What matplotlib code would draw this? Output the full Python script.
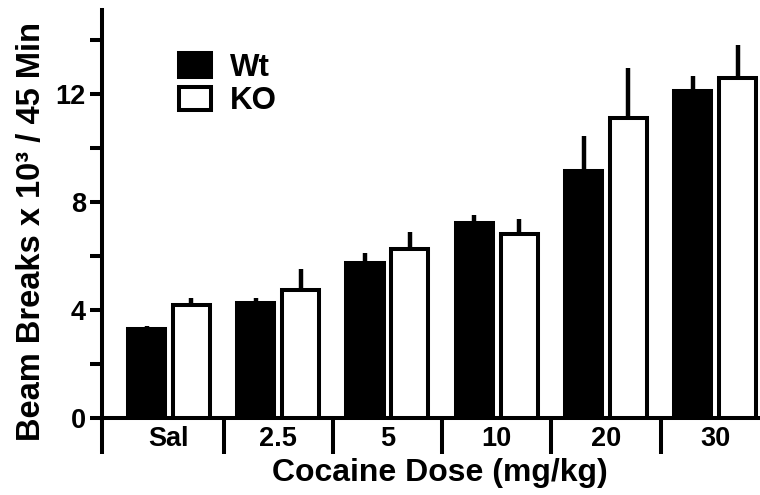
import matplotlib
matplotlib.use('Agg')
import matplotlib.pyplot as plt
from matplotlib.patches import Patch
import numpy as np

doses = ['Sal', '2.5', '5', '10', '20', '30']
wt_mean = [3.3, 4.25, 5.75, 7.2, 9.15, 12.1]
wt_sem = [0.1, 0.2, 0.35, 0.3, 1.3, 0.55]
ko_mean = [4.2, 4.75, 6.25, 6.8, 11.1, 12.6]
ko_sem = [0.25, 0.75, 0.65, 0.55, 1.85, 1.2]

plt.rcParams['font.family'] = ['Liberation Sans', 'DejaVu Sans']
plt.rcParams['font.weight'] = 'bold'

lw = 2.9
x = np.arange(len(doses))
w = 0.34
off = 0.205

fig = plt.figure(figsize=(7.6, 4.95), dpi=100)
ax = fig.add_axes([102/760, 77/495, 658/760, 408/495])

ax.bar(x - off, wt_mean, w, color='black', edgecolor='black', linewidth=lw, zorder=3)
ax.bar(x + off, ko_mean, w, color='white', edgecolor='black', linewidth=lw, zorder=3)
ax.errorbar(x - off, wt_mean, yerr=[np.zeros(len(x)), wt_sem], fmt='none',
            ecolor='black', elinewidth=3.2, capsize=0, zorder=2)
ax.errorbar(x + off, ko_mean, yerr=[np.zeros(len(x)), ko_sem], fmt='none',
            ecolor='black', elinewidth=3.2, capsize=0, zorder=2)

x0, x1 = -0.613, 5.41
ax.set_xlim(x0, x1)
ax.set_ylim(0, 15.1)

ax.set_xticks(x)
ax.set_xticklabels(doses)
# group separators hanging below the baseline
ax.set_xticks([x0 + 0.002] + list(x[:-1] + 0.5), minor=True)
ax.tick_params(axis='x', which='major', length=0, pad=5.5, labelsize=19.5)
ax.tick_params(axis='x', which='minor', length=26, width=lw, direction='out')

ax.set_yticks([0, 4, 8, 12])
ax.set_yticks([2, 6, 10, 14], minor=True)
ax.tick_params(axis='y', which='both', length=8.6, width=lw, pad=3, labelsize=19.5)

for s in ['top', 'right']:
    ax.spines[s].set_visible(False)
for s in ['left', 'bottom']:
    ax.spines[s].set_linewidth(lw)

ax.set_ylabel('Beam Breaks x 10³ / 45 Min', fontsize=23.5, fontweight='bold')
ax.yaxis.set_label_coords(-0.084, 0.456)
ax.set_xlabel('Cocaine Dose (mg/kg)', fontsize=23, fontweight='bold')
ax.xaxis.set_label_coords((440 - 102) / 658, -40 / 408)

handles = [Patch(facecolor='black', edgecolor='black', linewidth=lw),
           Patch(facecolor='white', edgecolor='black', linewidth=lw)]
ax.legend(handles, ['Wt', 'KO'], loc='upper left',
          bbox_to_anchor=(179/760, 1 - 53/495), bbox_transform=fig.transFigure,
          frameon=False, borderpad=0, borderaxespad=0, handlelength=1.02,
          handleheight=0.77, handletextpad=0.6, labelspacing=0.1,
          prop={'size': 22.5, 'weight': 'bold'})

fig.savefig('out.png', dpi=100)
